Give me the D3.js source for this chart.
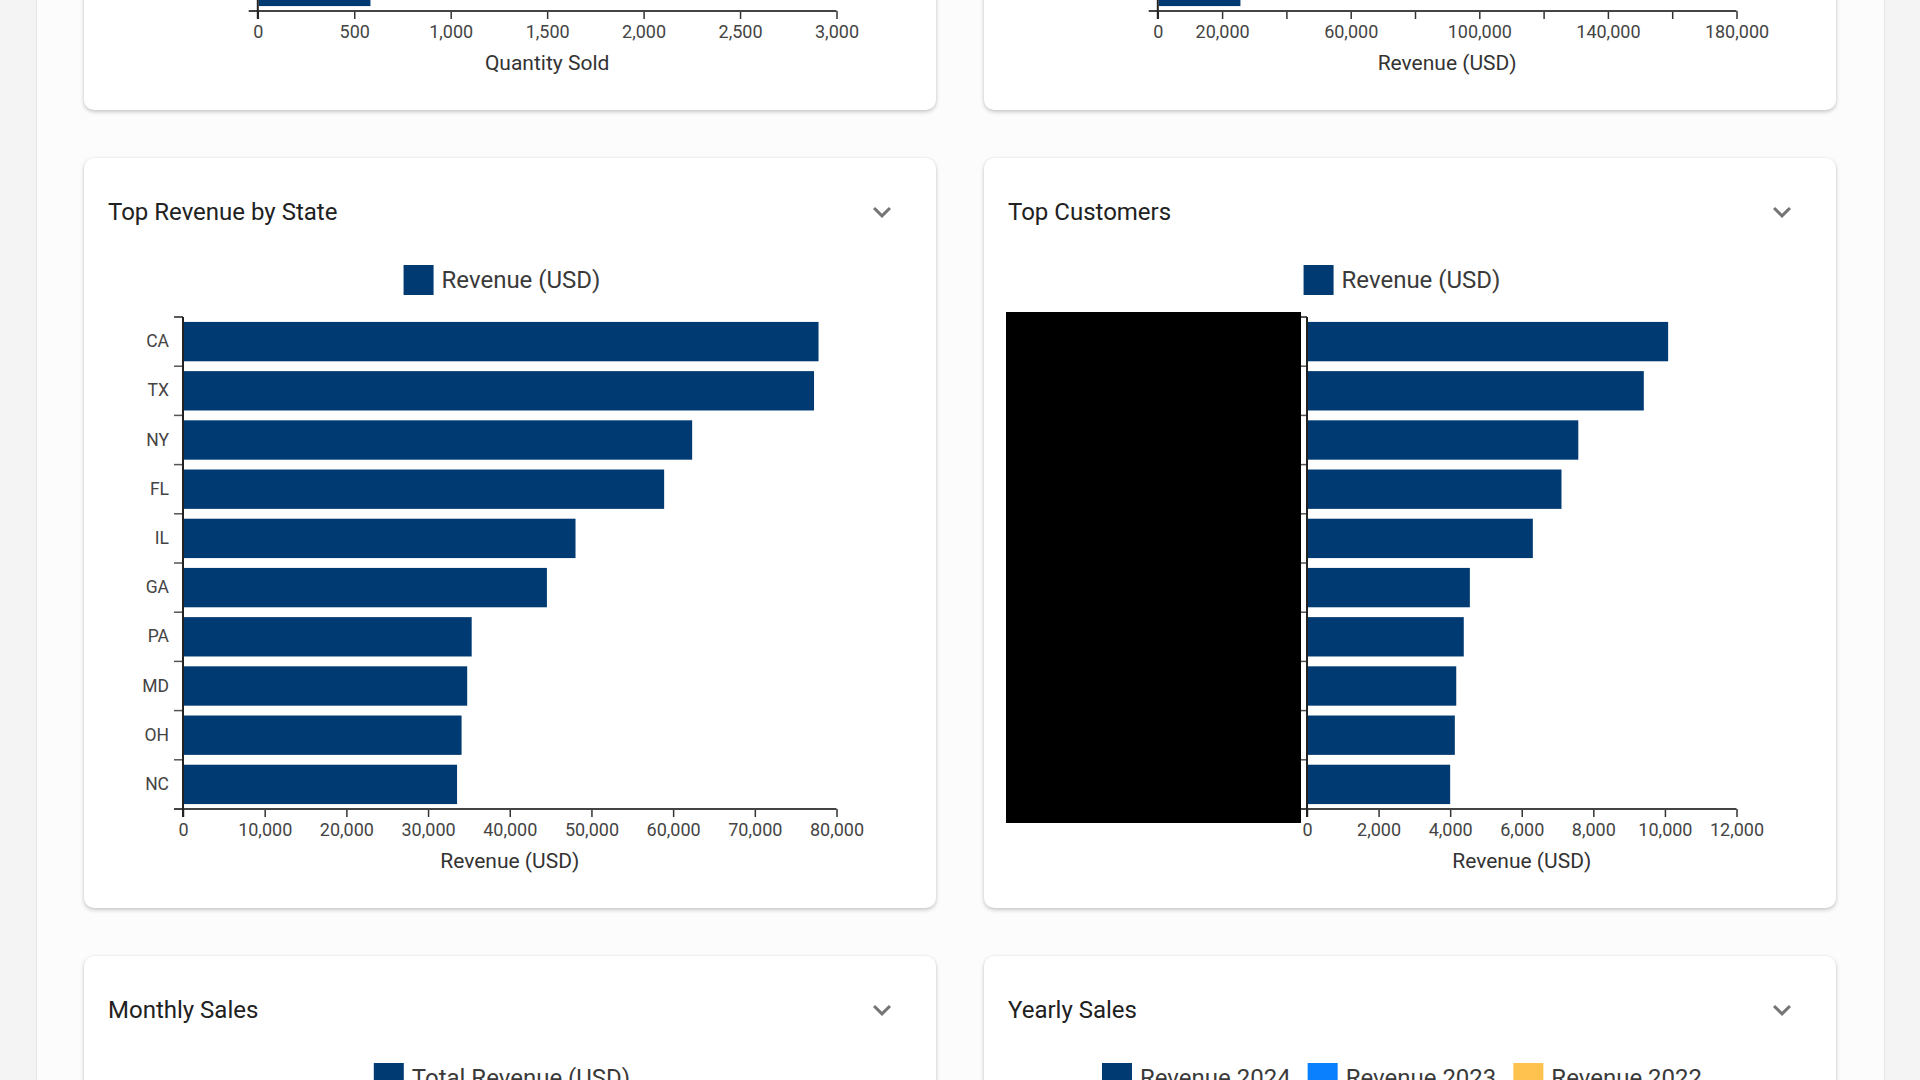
<!DOCTYPE html>
<html><head><meta charset="utf-8">
<script src="https://cdn.jsdelivr.net/npm/d3@7"></script>
<style>
html,body{margin:0;padding:0;width:1920px;height:1080px;overflow:hidden;background:#f4f4f4;font-family:Roboto,"Noto Sans",sans-serif;}
#page{position:absolute;left:36px;top:0;width:1847px;height:1080px;background:#fcfcfc;border-left:1px solid #e6e6e6;border-right:1px solid #e6e6e6;}
.card{position:absolute;background:#fff;border-radius:10px;box-shadow:0 2px 4px rgba(0,0,0,0.20),0 0 3px rgba(0,0,0,0.06);}
#c{position:absolute;left:0;top:0;}
</style></head><body>
<div id="page"></div>
<svg id="c" width="1920" height="1080"></svg>
<script>
// ---------- data ----------
const stateCategories = ["CA","TX","NY","FL","IL","GA","PA","MD","OH","NC"];
const stateRevenue    = [77800,77250,62330,58900,48050,44550,35340,34790,34100,33550];
const stateTicks      = [0,10000,20000,30000,40000,50000,60000,70000,80000];

// customer names are redacted (black box) in the reference
const customerCategories = ["Customer 1","Customer 2","Customer 3","Customer 4","Customer 5","Customer 6","Customer 7","Customer 8","Customer 9","Customer 10"];
const customerRevenue    = [10090,9410,7580,7110,6310,4550,4380,4170,4130,4000];
const customerTicks      = [0,2000,4000,6000,8000,10000,12000];

// top cards (scrolled off): only the last bar is visible
const qtyVisibleSlots  = [9];
const qtyVisibleValues = [584];
const qtyTicks         = [0,500,1000,1500,2000,2500,3000];

const prodRevVisibleSlots  = [9];
const prodRevVisibleValues = [25700];
const prodRevTicks         = [0,20000,40000,60000,80000,100000,120000,140000,160000,180000];
const prodRevTickLabels    = [0,20000,60000,100000,140000,180000];

const cardTitles   = ["Top Revenue by State","Top Customers","Monthly Sales","Yearly Sales"];
const yearlySeries = ["Revenue 2024","Revenue 2023","Revenue 2022"];
const yearlyColors = ["#003a72","#0a80ff","#ffc24e"];
const monthlySeries = ["Total Revenue (USD)"];
const barColor = "#003a72";

// ---------- layout ----------
const CW = 852, CH = 750;
const cards = [
  {x:84,  y:110-CH},{x:984, y:110-CH},
  {x:84,  y:158},{x:984, y:158},
  {x:84,  y:956},{x:984, y:956}
];
d3.select("body").selectAll("div.card").data(cards).enter().insert("div","#c")
  .attr("class","card")
  .style("left",d=>d.x+"px").style("top",d=>d.y+"px")
  .style("width",CW+"px").style("height",CH+"px");

const svg = d3.select("#c");
const fmt = d3.format(",");

function header(card, title){
  svg.append("text").attr("x",card.x+24).attr("y",card.y+62)
    .attr("font-size",24).attr("fill","#212121").text(title);
  svg.append("path")
    .attr("d","M16.59 8.59L12 13.17 7.41 8.59 6 10l6 6 6-6z")
    .attr("fill","#757575")
    .attr("transform",`translate(${card.x+CW-72},${card.y+36}) scale(1.5)`);
}

function legend(card, names, colors){
  const g = svg.append("g");
  const items = g.selectAll("g").data(names).enter().append("g");
  items.append("rect").attr("width",30).attr("height",30).attr("fill",(d,i)=>colors[i]);
  items.append("text").attr("x",38).attr("y",23).attr("font-size",24).attr("fill","#3a3a3a").text(d=>d);
  let widths = [];
  items.each(function(){ widths.push(38 + d3.select(this).select("text").node().getComputedTextLength()); });
  const gap = 17;
  const total = d3.sum(widths) + gap*(names.length-1);
  let x = card.x + CW/2 - 8 - total/2;
  items.attr("transform",(d,i)=>{ const t=`translate(${x},${card.y+107})`; x += widths[i]+gap; return t; });
}

function hbar(o){
  const g = svg.append("g");
  const x = d3.scaleLinear().domain([0,o.max]).range([o.x0,o.x1]);
  const y = d3.scaleBand().domain(o.domain).range([o.yBottom-492,o.yBottom]).paddingInner(0.2).paddingOuter(0.1);
  // bars
  g.selectAll("rect.bar").data(o.cats).enter().append("rect")
    .attr("x",x(0)+1).attr("y",d=>y(d)).attr("height",y.bandwidth())
    .attr("width",(d,i)=>x(o.vals[i])-x(0)-1).attr("fill",barColor);
  // y-axis labels at band centres
  if(o.showY){
    const ay = g.append("g").attr("transform",`translate(${o.x0},0)`)
      .call(d3.axisLeft(y).tickSize(0).tickPadding(14));
    ay.select(".domain").remove();
    ay.selectAll("text").attr("font-family","Roboto").attr("font-size",17.5).attr("fill","#444");
  }
  // y ticks at band boundaries
  const step = y.step();
  const bounds = d3.range(o.domain.length+1).map(i=>o.yBottom-492+i*step);
  g.selectAll("line.yt").data(bounds).enter().append("line")
    .attr("x1",o.x0-9).attr("x2",o.x0).attr("y1",d=>d).attr("y2",d=>d)
    .attr("stroke",(d,i)=>i===0?"#222":"#555").attr("stroke-width",1.5);
  // x axis
  const ax = g.append("g").attr("transform",`translate(0,${o.yBottom})`)
    .call(d3.axisBottom(x).tickValues(o.ticks).tickSize(8).tickSizeOuter(0)
      .tickFormat(d=> (o.labels? (o.labels.includes(d)?fmt(d):"") : fmt(d))));
  ax.select(".domain").remove();
  ax.selectAll(".tick line").attr("stroke","#333").attr("stroke-width",1.5);
  ax.selectAll(".tick text").attr("font-family","Roboto").attr("font-size",18).attr("fill","#444")
    .attr("y",27).attr("dy",0);
  g.append("line").attr("x1",o.x0-9).attr("x2",o.x1).attr("y1",o.yBottom).attr("y2",o.yBottom)
    .attr("stroke","#444").attr("stroke-width",2);
  g.append("line").attr("x1",o.x0).attr("x2",o.x0).attr("y1",o.yBottom-492).attr("y2",o.yBottom+8)
    .attr("stroke","#222").attr("stroke-width",2);
  g.append("text").attr("x",(o.x0+o.x1)/2).attr("y",o.yBottom+59).attr("text-anchor","middle")
    .attr("font-size",21).attr("fill","#333").text(o.title);
  return g;
}

// top (partially visible) cards
hbar({domain:d3.range(10),cats:qtyVisibleSlots,vals:qtyVisibleValues,max:3000,ticks:qtyTicks,
  x0:257.8,x1:836.5,yBottom:11,title:"Quantity Sold",showY:false});
hbar({domain:d3.range(10),cats:prodRevVisibleSlots,vals:prodRevVisibleValues,max:180000,ticks:prodRevTicks,labels:prodRevTickLabels,
  x0:1157.8,x1:1736.5,yBottom:11,title:"Revenue (USD)",showY:false});

// middle cards
header(cards[2],cardTitles[0]);
legend(cards[2],["Revenue (USD)"],[barColor]);
hbar({domain:stateCategories,cats:stateCategories,vals:stateRevenue,max:80000,ticks:stateTicks,
  x0:183,x1:836.5,yBottom:809,title:"Revenue (USD)",showY:true});

header(cards[3],cardTitles[1]);
legend(cards[3],["Revenue (USD)"],[barColor]);
hbar({domain:customerCategories,cats:customerCategories,vals:customerRevenue,max:12000,ticks:customerTicks,
  x0:1307,x1:1736.5,yBottom:809,title:"Revenue (USD)",showY:true});
// redaction box over customer names
svg.append("rect").attr("x",1006).attr("y",312).attr("width",295).attr("height",511).attr("fill","#000");

// bottom cards
header(cards[4],cardTitles[2]);
legend(cards[4],monthlySeries,[barColor]);
header(cards[5],cardTitles[3]);
legend(cards[5],yearlySeries,yearlyColors);
</script>
</body></html>
